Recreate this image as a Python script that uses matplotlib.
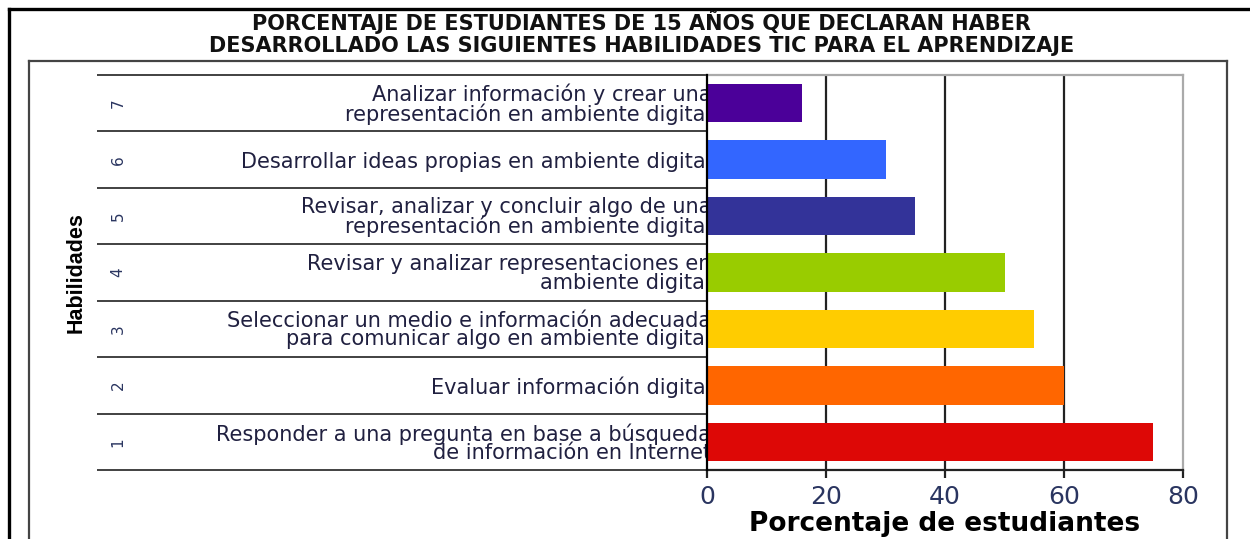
import matplotlib.pyplot as plt
import matplotlib.transforms as mtransforms
import numpy as np
from matplotlib.lines import Line2D

# data, bottom row first (habilidad 1 .. 7)
titulo = ['PORCENTAJE DE ESTUDIANTES DE 15 AÑOS QUE DECLARAN HABER',
          'DESARROLLADO LAS SIGUIENTES HABILIDADES TIC PARA EL APRENDIZAJE']
numeros = ['1', '2', '3', '4', '5', '6', '7']
habilidades = [
    'Responder a una pregunta en base a búsqueda\nde información en Internet',
    'Evaluar información digital',
    'Seleccionar un medio e información adecuada\npara comunicar algo en ambiente digital',
    'Revisar y analizar representaciones en\nambiente digital',
    'Revisar, analizar y concluir algo de una\nrepresentación en ambiente digital',
    'Desarrollar ideas propias en ambiente digital',
    'Analizar información y crear una\nrepresentación en ambiente digital',
]
porcentajes = [75, 60, 55, 50, 35, 30, 16]
colores = ['#DD0806', '#FF6600', '#FFCC00', '#99CC00', '#333399', '#3366FF', '#4B0099']
ticks_x = [0, 20, 40, 60, 80]

W, H = 1250, 539
fig = plt.figure(figsize=(W / 100, H / 100), dpi=100)
fig.patch.set_facecolor('white')


def fx(px):
    return px / W


def fy(py):
    return 1 - py / H


# frames
fig.add_artist(Line2D([fx(9), fx(9)], [fy(9), 0], color='black', lw=2.4))
fig.add_artist(Line2D([fx(9), 1], [fy(9), fy(9)], color='black', lw=2.4))
fig.add_artist(Line2D([fx(29), fx(29)], [fy(61), 0], color='#444444', lw=1.6))
fig.add_artist(Line2D([fx(1227), fx(1227)], [fy(61), 0], color='#444444', lw=1.6))
fig.add_artist(Line2D([fx(29), fx(1227)], [fy(61), fy(61)], color='#444444', lw=1.6))

# title, one text per line so the spacing can stay tight
for linea, y in zip(titulo, [22, 46.5]):
    fig.text(0.513, fy(y), linea, ha='center', va='center', fontsize=15,
             fontweight='bold', color='#111111', family='DejaVu Sans')

ax = fig.add_axes([fx(707), fy(470), fx(1183) - fx(707), fy(75) - fy(470)])
pos = np.arange(len(porcentajes))
ax.barh(pos, porcentajes, height=0.68, color=colores, zorder=3)
ax.set_xlim(0, 80)
ax.set_ylim(-0.5, len(porcentajes) - 0.5)

for x in ticks_x[1:-1]:
    ax.axvline(x, color='#222222', lw=1.6, zorder=1)

ax.spines['left'].set_color('black')
ax.spines['left'].set_linewidth(1.6)
ax.spines['left'].set_zorder(4)
ax.spines['bottom'].set_color('#222222')
ax.spines['bottom'].set_linewidth(1.6)
ax.spines['top'].set_color('#aaaaaa')
ax.spines['top'].set_linewidth(1.6)
ax.spines['right'].set_color('#aaaaaa')
ax.spines['right'].set_linewidth(1.6)

ax.set_xticks(ticks_x)
ax.set_xticklabels([str(t) for t in ticks_x], fontsize=18, color='#2a3560')
ax.tick_params(axis='x', direction='out', length=6, width=1.6, color='#222222', pad=5)

ax.set_yticks(pos)
ax.set_yticklabels(habilidades, fontsize=15, color='#202040', linespacing=0.9)
ax.tick_params(axis='y', length=0, pad=-3)

# category separators and numbers on the label side
trans = mtransforms.blended_transform_factory(ax.transAxes, ax.transData)
left_edge = (97 - 707) / 476
ax.hlines(np.arange(-0.5, len(porcentajes), 1), left_edge, 0, transform=trans,
          colors='#333333', lw=1.3, clip_on=False)
for p, n in zip(pos, numeros):
    ax.text((118 - 707) / 476, p, n, transform=trans, rotation=90, ha='center',
            va='center', fontsize=11, color='#2a3560')

ax.text((76 - 707) / 476, 0.5, 'Habilidades', transform=ax.transAxes, rotation=90,
        ha='center', va='center', fontsize=15.5, fontweight='bold', color='black',
        family=['Liberation Sans Narrow', 'Liberation Sans', 'DejaVu Sans'])

xl = ax.set_xlabel('Porcentaje de estudiantes', fontsize=19, fontweight='bold',
                   color='black', labelpad=1)
xl.set_clip_on(True)
xl.set_clip_box(mtransforms.TransformedBbox(
    mtransforms.Bbox([[0, 0], [fx(1165), 1]]), fig.transFigure))

fig.savefig('out.png', dpi=100, facecolor='white')
